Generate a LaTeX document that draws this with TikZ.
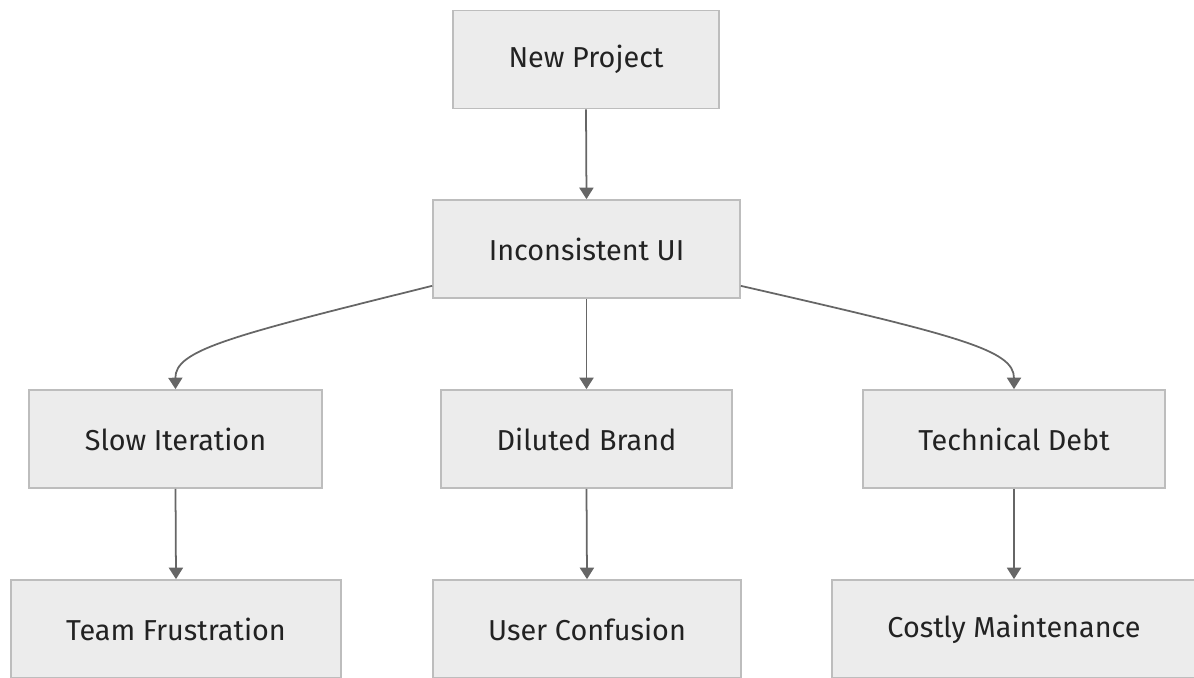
\documentclass[tikz,border=0pt]{standalone}
\usepackage{fontspec}
\setmainfont{Fira Sans}
\usetikzlibrary{arrows.meta}
\definecolor{boxfill}{HTML}{ECECEC}
\definecolor{boxline}{HTML}{BDBDBD}
\definecolor{arrowgray}{HTML}{666666}
\definecolor{texto}{HTML}{222222}
\tikzset{
  caja/.style={rectangle,draw=boxline,fill=boxfill,line width=1pt,align=center,
    minimum height=1.96cm,inner sep=0pt,text=texto,font=\fontsize{16.4}{19}\selectfont},
  flecha/.style={arrowgray,line width=1pt,-{Triangle[length=6.5pt,width=8pt]}}
}
\begin{document}
\begin{tikzpicture}[x=0.02cm,y=-0.02cm]
\useasboundingbox (0,0) rectangle (1194,678);
\path (586,59.5) node(np)[caja,minimum width=5.32cm]{New Project}
(586.5,249) node(iu)[caja,minimum width=6.14cm]{Inconsistent UI}
(175.5,439) node(si)[caja,minimum width=5.86cm]{Slow Iteration}
(586.5,439) node(db)[caja,minimum width=5.82cm]{Diluted Brand}
(1014,439) node(td)[caja,minimum width=6.04cm]{Technical Debt}
(176,629) node(tf)[caja,minimum width=6.6cm]{Team Frustration}
(587,629) node(uc)[caja,minimum width=6.16cm]{User Confusion}
(1014,629) node(cm)[caja,minimum width=7.28cm]{Costly Maintenance};
\draw[flecha](np.south)--(iu.north);
\draw[flecha]([yshift=0.26cm]iu.south west) .. controls (230,336) and (175,350) .. (si.north);
\draw[flecha](iu.south)--(db.north);
\draw[flecha]([yshift=0.26cm]iu.south east) .. controls (960,336) and (1014,350) .. (td.north);
\draw[flecha](si.south)--(tf.north);
\draw[flecha](db.south)--(uc.north);
\draw[flecha](td.south)--(cm.north);
\end{tikzpicture}
\end{document}
